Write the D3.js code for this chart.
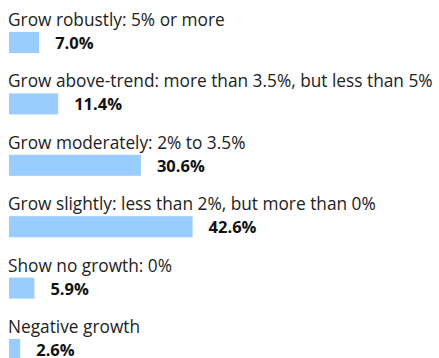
<!DOCTYPE html>
<html>
<head>
<meta charset="utf-8">
<script src="https://cdn.jsdelivr.net/npm/d3@7"></script>
<style>
  html, body { margin: 0; padding: 0; background: #fff; }
  svg { display: block; }
</style>
</head>
<body>
<script>
// Expected GDP growth outlook: share of respondents per answer
const categories = [
  "Grow robustly: 5% or more",
  "Grow above-trend: more than 3.5%, but less than 5%",
  "Grow moderately: 2% to 3.5%",
  "Grow slightly: less than 2%, but more than 0%",
  "Show no growth: 0%",
  "Negative growth"
];
const shares = [7.0, 11.4, 30.6, 42.6, 5.9, 2.6];

const width = 439, height = 358;
const rowStep = 61.4;

const svg = d3.select("body").append("svg")
  .attr("width", width)
  .attr("height", height);

const y = d3.scaleBand()
  .domain(categories)
  .range([0, rowStep * categories.length])
  .paddingInner(0)
  .paddingOuter(0);

const x = d3.scaleLinear()
  .domain([0, 100])
  .range([9, 440]);

const rows = svg.selectAll("g.row")
  .data(categories.map((c, i) => ({ cat: c, value: shares[i] })))
  .join("g")
  .attr("class", "row")
  .attr("transform", d => `translate(0,${y(d.cat)})`);

rows.append("text")
  .attr("x", 8)
  .attr("y", 26)
  .attr("font-family", "'Open Sans', sans-serif")
  .attr("font-size", 17.3)
  .attr("fill", "#222")
  .text(d => d.cat);

rows.append("rect")
  .attr("x", x(0))
  .attr("y", 32)
  .attr("height", 21)
  .attr("width", d => x(d.value) - x(0))
  .attr("fill", "#99ccff");

rows.append("text")
  .attr("x", d => x(d.value) + 16)
  .attr("y", 49)
  .attr("font-family", "'Open Sans', sans-serif")
  .attr("font-size", 16.5)
  .attr("font-weight", "bold")
  .attr("fill", "#111")
  .text(d => d.value.toFixed(1) + "%");
</script>
</body>
</html>
